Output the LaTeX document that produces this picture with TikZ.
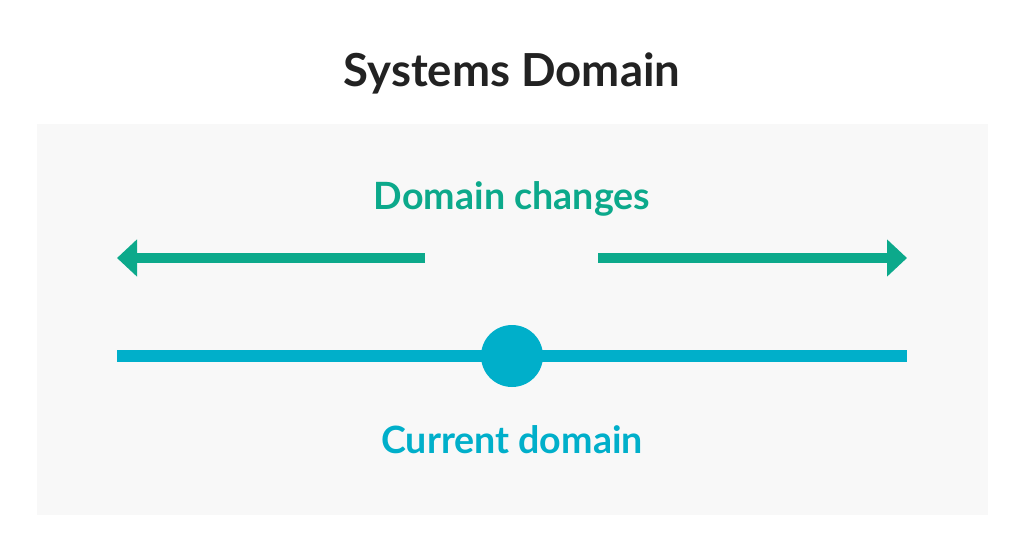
\documentclass[tikz,border=0pt]{standalone}
\usepackage{fontspec}
\setmainfont{Lato}
\usetikzlibrary{arrows.meta,positioning}
\definecolor{domgreen}{HTML}{0CA98B}
\definecolor{domblue}{HTML}{00AFCA}
\definecolor{panelgray}{HTML}{F8F8F8}
\definecolor{titlegray}{HTML}{222222}

\begin{document}
\begin{tikzpicture}[
    x=1pt, y=-1pt,
    heading/.style={anchor=base, font=\fontsize{45.5}{52}\selectfont\bfseries, text=titlegray, inner sep=0pt},
    label/.style={anchor=base, font=\fontsize{37.6}{44}\selectfont\bfseries, inner sep=0pt},
    change/.style={-{Triangle[length=20pt,width=36pt]}, line width=10pt, domgreen},
    track/.style={line width=12pt, domblue}
]
\useasboundingbox (0,0) rectangle (1024,554);
\fill[white] (0,0) rectangle (1024,554);
\fill[panelgray] (37,124) rectangle (988,515);
\node[heading] (title) at (512,86) {Systems Domain};
\node[label, text=domgreen] (changes) at (512,209) {Domain changes};
\coordinate (leftstart) at (425,258);
\coordinate (lefttip) at (117,258);
\coordinate (rightstart) at (598,258);
\coordinate (righttip) at (907,258);
\draw[change] (leftstart) -- (lefttip);
\draw[change] (rightstart) -- (righttip);
\coordinate (trackleft) at (117,356);
\coordinate (trackright) at (907,356);
\draw[track] (trackleft) -- (trackright);
\node[circle, fill=domblue, minimum size=62pt, inner sep=0pt] (dot) at (512,356) {};
\node[label, text=domblue] (current) at (512,453) {Current domain};
\end{tikzpicture}
\end{document}
